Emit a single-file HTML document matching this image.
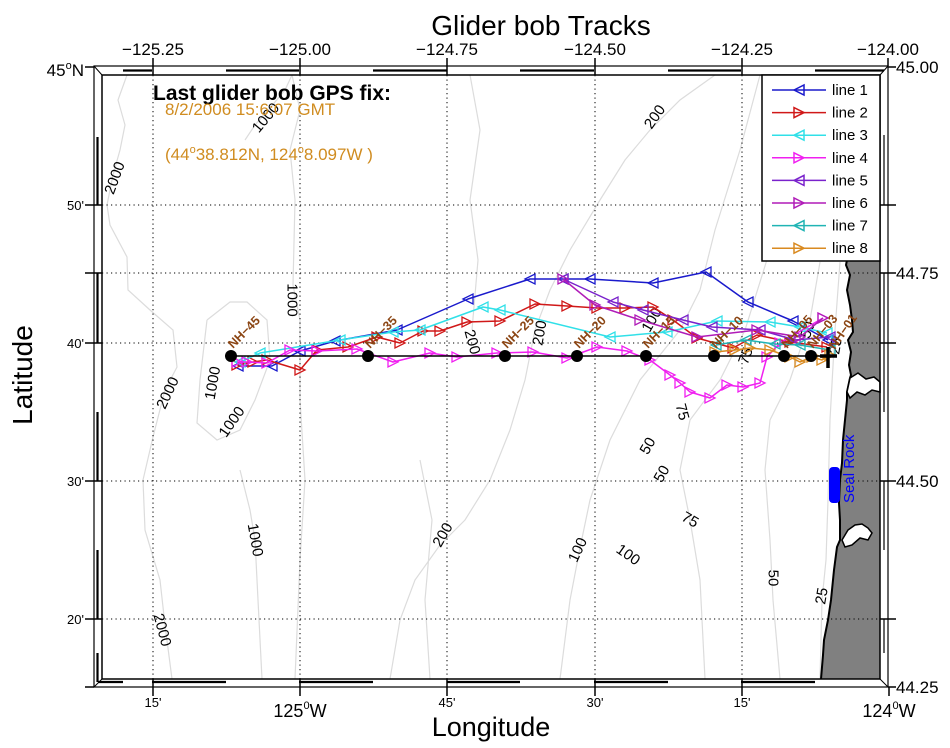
<!DOCTYPE html>
<html>
<head>
<meta charset="utf-8">
<style>
html,body{margin:0;padding:0;background:#fff;}
svg{display:block;font-family:"Liberation Sans",Arial,sans-serif;}
</style>
</head>
<body>
<svg width="950" height="748" viewBox="0 0 950 748" xmlns="http://www.w3.org/2000/svg">
<defs>
<marker id="mL1" markerUnits="userSpaceOnUse" markerWidth="14" markerHeight="14" refX="7" refY="7" orient="0" overflow="visible"><path d="M2,7 L12,2 L12,12 Z" fill="none" stroke="#1a1acc" stroke-width="1.3"/></marker>
<marker id="mR2" markerUnits="userSpaceOnUse" markerWidth="14" markerHeight="14" refX="7" refY="7" orient="0" overflow="visible"><path d="M12,7 L2,2 L2,12 Z" fill="none" stroke="#d01818" stroke-width="1.3"/></marker>
<marker id="mL3" markerUnits="userSpaceOnUse" markerWidth="14" markerHeight="14" refX="7" refY="7" orient="0" overflow="visible"><path d="M2,7 L12,2 L12,12 Z" fill="none" stroke="#30e0e8" stroke-width="1.3"/></marker>
<marker id="mR4" markerUnits="userSpaceOnUse" markerWidth="14" markerHeight="14" refX="7" refY="7" orient="0" overflow="visible"><path d="M12,7 L2,2 L2,12 Z" fill="none" stroke="#f020f0" stroke-width="1.3"/></marker>
<marker id="mL5" markerUnits="userSpaceOnUse" markerWidth="14" markerHeight="14" refX="7" refY="7" orient="0" overflow="visible"><path d="M2,7 L12,2 L12,12 Z" fill="none" stroke="#7a22cc" stroke-width="1.3"/></marker>
<marker id="mR6" markerUnits="userSpaceOnUse" markerWidth="14" markerHeight="14" refX="7" refY="7" orient="0" overflow="visible"><path d="M12,7 L2,2 L2,12 Z" fill="none" stroke="#b01cb8" stroke-width="1.3"/></marker>
<marker id="mL7" markerUnits="userSpaceOnUse" markerWidth="14" markerHeight="14" refX="7" refY="7" orient="0" overflow="visible"><path d="M2,7 L12,2 L12,12 Z" fill="none" stroke="#20b4b4" stroke-width="1.3"/></marker>
<marker id="mR8" markerUnits="userSpaceOnUse" markerWidth="14" markerHeight="14" refX="7" refY="7" orient="0" overflow="visible"><path d="M12,7 L2,2 L2,12 Z" fill="none" stroke="#d98a20" stroke-width="1.3"/></marker>
</defs>

<rect width="950" height="748" fill="#fff"/>

<!-- Title -->
<text x="541" y="35" font-size="28" text-anchor="middle">Glider bob Tracks</text>

<!-- bathymetry contours -->
<g fill="none" stroke="#dcdcdc" stroke-width="1.2">
<polyline points="127,75 118,100 125,125 120,150 113,175 107,205 110,225 127,257 128,290 150,310 173,330 177,367 165,390 153,437 143,480 145,530 160,580 165,625 172,679"/>
<polyline points="245,140 255,125 270,108 285,90 292,75"/>
<polyline points="292,75 300,110 290,150 295,200 293,285 300,320 300,400 305,480 300,560 295,679"/>
<polyline points="207,320 230,302 247,302 267,320 270,360 255,400 240,430 217,440 197,423 200,380 207,320"/>
<polyline points="240,470 250,510 255,540 258,600 262,679"/>
<polyline points="715,75 680,100 650,130 625,160 600,200 570,250 550,290 535,330 525,380 510,430 490,480 465,520 440,545 415,580 400,620 390,679"/>
<polyline points="760,75 740,150 715,230 700,290 680,330 640,380 610,440 590,500 580,548 570,600 560,679"/>
<polyline points="800,75 790,150 770,250 745,330 720,380 690,420 680,470 690,520 700,580 705,679"/>
<polyline points="820,262 810,320 790,380 770,420 765,470 770,540 773,600 780,679"/>
<polyline points="840,262 835,330 830,420 828,500 826,560 822,600 820,679"/>
<polyline points="470,75 480,130 470,200 478,260 472,330"/>
<polyline points="430,679 425,600 432,520 420,460"/>
</g>

<!-- land -->
<polygon points="848,255 880,255 880,679 821,679 823,655 824,640 828,620 831,600 834,570 837,547 840,540 840,520 839,503 840,480 842,463 843,440 845,420 847,400 847,392 850,378 851,375 849,365 851,352 848,340 853,332 852,320 850,305 847,290 850,275 846,265" fill="#808080" stroke="none"/>
<polyline points="848,255 846,265 850,275 847,290 850,305 852,320 853,332 848,340 851,352 849,365 851,375 850,378 847,392 847,400 845,420 843,440 842,463 840,480 839,503 840,520 840,540 837,547 834,570 831,600 828,620 824,640 823,655 821,679" fill="none" stroke="#000" stroke-width="2"/>
<polygon points="850,378 858,373 866,379 874,377 880,382 880,392 872,390 865,395 857,392 850,398 847,392" fill="#fff" stroke="#000" stroke-width="1.5"/>
<polygon points="842,540 848,530 855,525 862,524 868,528 872,533 868,540 860,538 852,545 845,547" fill="#fff" stroke="#000" stroke-width="1.5"/>

<!-- grid -->
<g stroke="#000" stroke-width="1" stroke-dasharray="1.2 3.3" fill="none">
<line x1="153" y1="75" x2="153" y2="679"/>
<line x1="300" y1="75" x2="300" y2="679"/>
<line x1="447" y1="75" x2="447" y2="679"/>
<line x1="595" y1="75" x2="595" y2="679"/>
<line x1="742" y1="75" x2="742" y2="679"/>
<line x1="102" y1="205" x2="880" y2="205"/>
<line x1="102" y1="273" x2="880" y2="273"/>
<line x1="102" y1="343" x2="880" y2="343"/>
<line x1="102" y1="481" x2="880" y2="481"/>
<line x1="102" y1="619" x2="880" y2="619"/>
</g>

<!-- contour labels -->
<g font-size="15" fill="#000" text-anchor="middle" dominant-baseline="central">
<text transform="translate(115,178) rotate(-70)">2000</text>
<text transform="translate(266,118) rotate(-50)">1000</text>
<text transform="translate(292,300) rotate(90)">1000</text>
<text transform="translate(168,393) rotate(-65)">2000</text>
<text transform="translate(213,383) rotate(-80)">1000</text>
<text transform="translate(232,422) rotate(-55)">1000</text>
<text transform="translate(255,540) rotate(80)">1000</text>
<text transform="translate(162,630) rotate(75)">2000</text>
<text transform="translate(655,117) rotate(-55)">200</text>
<text transform="translate(472,342) rotate(75)">200</text>
<text transform="translate(540,333) rotate(-80)">200</text>
<text transform="translate(443,535) rotate(-60)">200</text>
<text transform="translate(652,320) rotate(-60)">100</text>
<text transform="translate(578,550) rotate(-65)">100</text>
<text transform="translate(628,555) rotate(35)">100</text>
<text transform="translate(682,412) rotate(75)">75</text>
<text transform="translate(690,520) rotate(30)">75</text>
<text transform="translate(746,356) rotate(-70)">75</text>
<text transform="translate(648,446) rotate(-60)">50</text>
<text transform="translate(662,474) rotate(-60)">50</text>
<text transform="translate(773,578) rotate(90)">50</text>
<text transform="translate(808,330) rotate(-70)">50</text>
<text transform="translate(822,596) rotate(-80)">25</text>
<text transform="translate(836,346) rotate(-80)">25</text>
</g>

<!-- Seal Rock -->
<rect x="829" y="467" width="11" height="36" rx="4" fill="#0000ff"/>
<text transform="translate(854,503) rotate(-90)" font-size="15" fill="#0000ff">Seal Rock</text>

<!-- glider tracks -->
<g fill="none" stroke-width="1.5" stroke-linejoin="round">
<polyline stroke="#1a1acc" marker-start="url(#mL1)" marker-mid="url(#mL1)" marker-end="url(#mL1)" points="238,366 272,366 300,351 335,341 397,330 468,299 530,279 563,279 590,279 653,283 706,272 748,302 793,321 828,340"/>
<polyline stroke="#d01818" marker-start="url(#mR2)" marker-mid="url(#mR2)" marker-end="url(#mR2)" points="237,365 253,362 267,360 300,370 317,350 348,347 377,337 400,343 423,331 440,331 467,322 500,321 535,304 567,306 597,308 625,308 653,307 673,320 697,338 733,348 757,335 790,342 827,347"/>
<polyline stroke="#30e0e8" marker-start="url(#mL3)" marker-mid="url(#mL3)" marker-end="url(#mL3)" points="240,362 260,353 340,340 393,332 420,330 483,307 500,310 610,337 667,332 717,321 770,322 800,327 827,333"/>
<polyline stroke="#f020f0" marker-start="url(#mR4)" marker-mid="url(#mR4)" marker-end="url(#mR4)" points="237,362 247,362 267,363 290,350 317,351 357,349 393,362 430,353 457,357 497,353 533,352 567,358 597,347 627,351 650,360 670,375 680,383 690,392 710,398 727,385 743,387 760,383 767,357 780,343 823,318"/>
<polyline stroke="#7a22cc" marker-start="url(#mL5)" marker-mid="url(#mL5)" marker-end="url(#mL5)" points="563,279 613,302 643,310 683,320 712,327 760,330 795,340 830,337"/>
<polyline stroke="#b01cb8" marker-start="url(#mR6)" marker-mid="url(#mR6)" marker-end="url(#mR6)" points="563,279 595,305 640,320 697,337 757,330 800,337 823,318"/>
<polyline stroke="#20b4b4" marker-start="url(#mL7)" marker-mid="url(#mL7)" marker-end="url(#mL7)" points="716,345 746,340 775,344 800,345 830,350"/>
<polyline stroke="#d98a20" marker-start="url(#mR8)" marker-mid="url(#mR8)" marker-end="url(#mR8)" points="715,352 735,350 750,348 770,350 790,357 800,362 812,357 822,360 830,355"/>
</g>

<!-- NH line and stations -->
<line x1="231" y1="356" x2="836" y2="356" stroke="#000" stroke-width="1.5"/>
<g fill="#000">
<circle cx="231" cy="356" r="6"/>
<circle cx="368" cy="356" r="6"/>
<circle cx="505" cy="356" r="6"/>
<circle cx="577" cy="356" r="6"/>
<circle cx="646" cy="356" r="6"/>
<circle cx="714" cy="356" r="6"/>
<circle cx="784" cy="356" r="6"/>
<circle cx="811" cy="356" r="6"/>
</g>
<g stroke="#000" stroke-width="3.5">
<line x1="820" y1="356" x2="837" y2="356"/>
<line x1="828" y1="347" x2="828" y2="368"/>
</g>
<g font-size="12.5" font-weight="bold" fill="#8b4513">
<text transform="translate(233,349) rotate(-45)">NH−45</text>
<text transform="translate(370,349) rotate(-45)">NH−35</text>
<text transform="translate(507,349) rotate(-45)">NH−25</text>
<text transform="translate(579,349) rotate(-45)">NH−20</text>
<text transform="translate(648,349) rotate(-45)">NH−15</text>
<text transform="translate(716,349) rotate(-45)">NH−10</text>
<text transform="translate(787,349) rotate(-48)">NH−05</text>
<text transform="translate(813,349) rotate(-50)">NH−03</text>
<text transform="translate(835,350) rotate(-55)">NH−01</text>
</g>

<!-- info text -->
<text x="153" y="100" font-size="21" font-weight="bold" fill="#000">Last glider bob GPS fix:</text>
<text x="165" y="115" font-size="17" fill="#d08c20">8/2/2006 15:6:07 GMT</text>
<text x="165" y="160" font-size="17" fill="#d08c20">(44<tspan font-size="11" dy="-7">o</tspan><tspan dy="7">38.812N, 124</tspan><tspan font-size="11" dy="-7">o</tspan><tspan dy="7">8.097W )</tspan></text>

<!-- frame -->
<g fill="none" stroke="#000">
<rect x="94" y="66" width="794" height="621" stroke-width="1.2"/>
<rect x="102" y="75" width="778" height="604" stroke-width="1.5"/>
<line x1="94" y1="66" x2="102" y2="75" stroke-width="1"/>
<line x1="888" y1="66" x2="880" y2="75" stroke-width="1"/>
<line x1="94" y1="687" x2="102" y2="679" stroke-width="1"/>
<line x1="888" y1="687" x2="880" y2="679" stroke-width="1"/>
</g>
<g stroke="#000" stroke-width="2.2">
<line x1="123" y1="70.5" x2="152" y2="70.5"/>
<line x1="226" y1="70.5" x2="299" y2="70.5"/>
<line x1="373" y1="70.5" x2="447" y2="70.5"/>
<line x1="520" y1="70.5" x2="594" y2="70.5"/>
<line x1="668" y1="70.5" x2="741" y2="70.5"/>
<line x1="815" y1="70.5" x2="884" y2="70.5"/>
<line x1="98" y1="682" x2="123" y2="682"/>
<line x1="152" y1="682" x2="226" y2="682"/>
<line x1="299" y1="682" x2="373" y2="682"/>
<line x1="447" y1="682" x2="520" y2="682"/>
<line x1="594" y1="682" x2="668" y2="682"/>
<line x1="741" y1="682" x2="815" y2="682"/>
<line x1="97.5" y1="137" x2="97.5" y2="205"/>
<line x1="97.5" y1="273" x2="97.5" y2="343"/>
<line x1="97.5" y1="412" x2="97.5" y2="481"/>
<line x1="97.5" y1="550" x2="97.5" y2="619"/>
<line x1="97.5" y1="653" x2="97.5" y2="682"/>
</g>
<g stroke="#000" stroke-width="1.2">
<line x1="884" y1="135" x2="884" y2="205"/>
<line x1="884" y1="273" x2="884" y2="412"/>
<line x1="884" y1="481" x2="884" y2="550"/>
<line x1="884" y1="619" x2="884" y2="653"/>
</g>

<!-- ticks -->
<g stroke="#000" stroke-width="1.5">
<line x1="153" y1="58" x2="153" y2="75"/>
<line x1="300" y1="58" x2="300" y2="75"/>
<line x1="447" y1="58" x2="447" y2="75"/>
<line x1="595" y1="58" x2="595" y2="75"/>
<line x1="742" y1="58" x2="742" y2="75"/>
<line x1="888" y1="58" x2="888" y2="66"/>
<line x1="153" y1="679" x2="153" y2="696"/>
<line x1="300" y1="679" x2="300" y2="696"/>
<line x1="447" y1="679" x2="447" y2="696"/>
<line x1="595" y1="679" x2="595" y2="696"/>
<line x1="742" y1="679" x2="742" y2="696"/>
<line x1="889" y1="687" x2="889" y2="696"/>
<line x1="85" y1="67" x2="94" y2="67"/>
<line x1="85" y1="205" x2="102" y2="205"/>
<line x1="85" y1="273" x2="102" y2="273"/>
<line x1="85" y1="343" x2="102" y2="343"/>
<line x1="85" y1="481" x2="102" y2="481"/>
<line x1="85" y1="619" x2="102" y2="619"/>
<line x1="85" y1="687" x2="94" y2="687"/>
<line x1="888" y1="67" x2="896" y2="67"/>
<line x1="880" y1="205" x2="896" y2="205"/>
<line x1="880" y1="273" x2="896" y2="273"/>
<line x1="880" y1="343" x2="896" y2="343"/>
<line x1="880" y1="481" x2="896" y2="481"/>
<line x1="880" y1="619" x2="896" y2="619"/>
<line x1="888" y1="687" x2="896" y2="687"/>
</g>

<!-- top labels -->
<g font-size="17" text-anchor="middle" fill="#000">
<text x="153" y="55">−125.25</text>
<text x="300" y="55">−125.00</text>
<text x="447" y="55">−124.75</text>
<text x="595" y="55">−124.50</text>
<text x="742" y="55">−124.25</text>
<text x="888" y="55">−124.00</text>
</g>
<!-- right labels -->
<g font-size="17" fill="#000">
<text x="896" y="73">45.00</text>
<text x="896" y="279">44.75</text>
<text x="896" y="487">44.50</text>
<text x="896" y="693">44.25</text>
</g>
<!-- left labels -->
<text x="84" y="76" font-size="17" text-anchor="end">45<tspan font-size="11" dy="-7">o</tspan><tspan dy="7">N</tspan></text>
<g font-size="13" text-anchor="end" fill="#000">
<text x="84" y="210">50'</text>
<text x="84" y="348">40'</text>
<text x="84" y="486">30'</text>
<text x="84" y="624">20'</text>
</g>
<!-- bottom labels -->
<g font-size="13" text-anchor="middle" fill="#000">
<text x="153" y="707">15'</text>
<text x="447" y="707">45'</text>
<text x="595" y="707">30'</text>
<text x="742" y="707">15'</text>
</g>
<text x="300" y="717" font-size="18" text-anchor="middle">125<tspan font-size="11" dy="-8">0</tspan><tspan dy="8">W</tspan></text>
<text x="889" y="717" font-size="18" text-anchor="middle">124<tspan font-size="11" dy="-8">0</tspan><tspan dy="8">W</tspan></text>

<!-- axis titles -->
<text x="491" y="736" font-size="27" text-anchor="middle">Longitude</text>
<text transform="translate(32,375) rotate(-90)" font-size="28" text-anchor="middle">Latitude</text>

<!-- legend -->
<rect x="762" y="75" width="118" height="186" fill="#fff" stroke="#000" stroke-width="1.5"/>
<g stroke-width="1.5" fill="none">
<line x1="772" y1="90" x2="826" y2="90" stroke="#1a1acc"/><path d="M794,90 L804,85 L804,95 Z" stroke="#1a1acc"/>
<line x1="772" y1="112.6" x2="826" y2="112.6" stroke="#d01818"/><path d="M804,112.6 L794,107.6 L794,117.6 Z" stroke="#d01818"/>
<line x1="772" y1="135.2" x2="826" y2="135.2" stroke="#30e0e8"/><path d="M794,135.2 L804,130.2 L804,140.2 Z" stroke="#30e0e8"/>
<line x1="772" y1="157.8" x2="826" y2="157.8" stroke="#f020f0"/><path d="M804,157.8 L794,152.8 L794,162.8 Z" stroke="#f020f0"/>
<line x1="772" y1="180.4" x2="826" y2="180.4" stroke="#7a22cc"/><path d="M794,180.4 L804,175.4 L804,185.4 Z" stroke="#7a22cc"/>
<line x1="772" y1="203" x2="826" y2="203" stroke="#b01cb8"/><path d="M804,203 L794,198 L794,208 Z" stroke="#b01cb8"/>
<line x1="772" y1="225.6" x2="826" y2="225.6" stroke="#20b4b4"/><path d="M794,225.6 L804,220.6 L804,230.6 Z" stroke="#20b4b4"/>
<line x1="772" y1="248.2" x2="826" y2="248.2" stroke="#d98a20"/><path d="M804,248.2 L794,243.2 L794,253.2 Z" stroke="#d98a20"/>
</g>
<g font-size="15" fill="#000">
<text x="832" y="95">line 1</text>
<text x="832" y="117.6">line 2</text>
<text x="832" y="140.2">line 3</text>
<text x="832" y="162.8">line 4</text>
<text x="832" y="185.4">line 5</text>
<text x="832" y="208">line 6</text>
<text x="832" y="230.6">line 7</text>
<text x="832" y="253.2">line 8</text>
</g>
</svg>
</body>
</html>
